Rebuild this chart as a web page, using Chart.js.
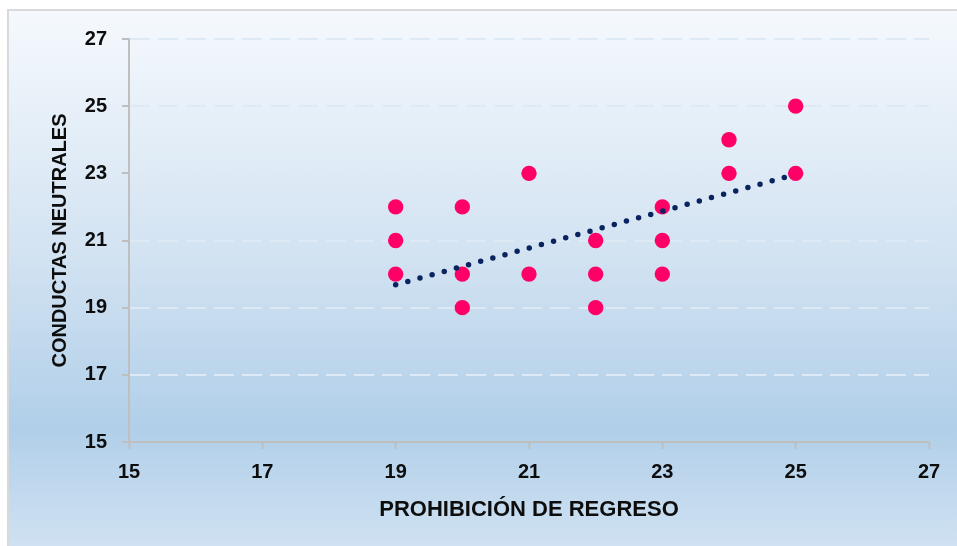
<!DOCTYPE html>
<html>
<head>
<meta charset="utf-8">
<script src="https://cdn.jsdelivr.net/npm/chart.js@4.4.1/dist/chart.umd.min.js"></script>
<style>
  html, body { margin: 0; padding: 0; background: #ffffff; }
  #wrap { width: 957px; height: 546px; position: relative; }
</style>
</head>
<body>
<div id="wrap"><canvas id="c" width="957" height="546"></canvas></div>
<script>
// Data
const prohibicionX = [19, 19, 19, 20, 20, 20, 21, 21, 22, 22, 22, 23, 23, 23, 24, 24, 25, 25];
const conductasY   = [22, 21, 20, 22, 20, 19, 23, 20, 21, 20, 19, 22, 21, 20, 24, 23, 25, 23];
const trendX = [19, 25];
const trendY = [19.68, 22.97];
const axisTicks = [15, 17, 19, 21, 23, 25, 27];
const xTitle = 'PROHIBICIÓN DE REGRESO';
const yTitle = 'CONDUCTAS NEUTRALES';

const points = prohibicionX.map((x, i) => ({ x: x, y: conductasY[i] }));
const trend = trendX.map((x, i) => ({ x: x, y: trendY[i] }));

const FAMILY = '"Liberation Sans", Arial, sans-serif';
const TICK_FONT = { family: FAMILY, size: 20, weight: 'bold' };
const XT_FONT = { family: FAMILY, size: 22, weight: 'bold' };
const YT_FONT = { family: FAMILY, size: 20, weight: 'bold' };
const TEXT = '#0d0d0d';
const AXIS = '#bfbfbf';
const GRID = '#dde9f5';

const bgPlugin = {
  id: 'bg',
  beforeDraw(chart) {
    const ctx = chart.ctx;
    const W = chart.width, H = chart.height;
    ctx.save();
    ctx.fillStyle = '#ffffff';
    ctx.fillRect(0, 0, W, H);
    const g = ctx.createLinearGradient(0, 10, 0, H);
    g.addColorStop(0, '#f5f9fd');
    g.addColorStop(0.45, '#d3e3f2');
    g.addColorStop(0.78, '#b1cfe9');
    g.addColorStop(1, '#cfe1f2');
    ctx.fillStyle = g;
    ctx.fillRect(9, 11, W - 9, H - 11);
    ctx.strokeStyle = '#d9d9d9';
    ctx.lineWidth = 2;
    ctx.beginPath();
    ctx.moveTo(8, H);
    ctx.lineTo(8, 10);
    ctx.lineTo(W, 10);
    ctx.stroke();
    ctx.restore();
  }
};

new Chart(document.getElementById('c'), {
  type: 'scatter',
  data: {
    datasets: [
      {
        label: 'Tendencia',
        type: 'line',
        data: trend,
        order: 0,
        showLine: true,
        fill: false,
        borderColor: '#0a2460',
        borderWidth: 5.5,
        borderDash: [0, 12.6],
        borderCapStyle: 'round',
        pointRadius: 0,
        tension: 0
      },
      {
        label: 'Datos',
        data: points,
        order: 1,
        backgroundColor: '#ff0066',
        borderColor: '#ff0066',
        borderWidth: 0,
        pointRadius: 7.7,
        pointHoverRadius: 7.7
      }
    ]
  },
  options: {
    responsive: false,
    animation: false,
    events: [],
    layout: { padding: { left: 0, right: 28, top: 39, bottom: 0 } },
    plugins: { legend: { display: false }, tooltip: { enabled: false } },
    scales: {
      x: {
        type: 'linear',
        min: 15, max: 27,
        afterFit(s) { s.height = 104; },
        afterBuildTicks(s) { s.ticks = axisTicks.map(v => ({ value: v })); },
        ticks: { color: TEXT, font: TICK_FONT, padding: 11, maxRotation: 0 },
        grid: { drawOnChartArea: false, drawTicks: true, tickLength: 7, tickColor: AXIS, tickWidth: 2 },
        border: { display: true, color: AXIS, width: 2 },
        title: { display: true, text: xTitle, color: TEXT, font: XT_FONT, padding: { top: 0, bottom: 22.8 } }
      },
      y: {
        type: 'linear',
        min: 15, max: 27,
        afterFit(s) { s.width = 129; },
        afterBuildTicks(s) { s.ticks = axisTicks.map(v => ({ value: v })); },
        ticks: { color: TEXT, font: TICK_FONT, padding: 15 },
        grid: {
          drawOnChartArea: true, drawTicks: true, tickLength: 7,
          color: (c) => (c.tick && c.tick.value === 15) ? 'rgba(0,0,0,0)' : GRID,
          lineWidth: 2, tickColor: AXIS, tickWidth: 2, tickBorderDash: [0, 0]
        },
        border: { display: true, color: AXIS, width: 2, dash: [20, 8] },
        title: { display: true, text: yTitle, color: TEXT, font: YT_FONT, padding: { top: 48, bottom: 0 } }
      }
    }
  },
  plugins: [bgPlugin]
});
</script>
</body>
</html>
